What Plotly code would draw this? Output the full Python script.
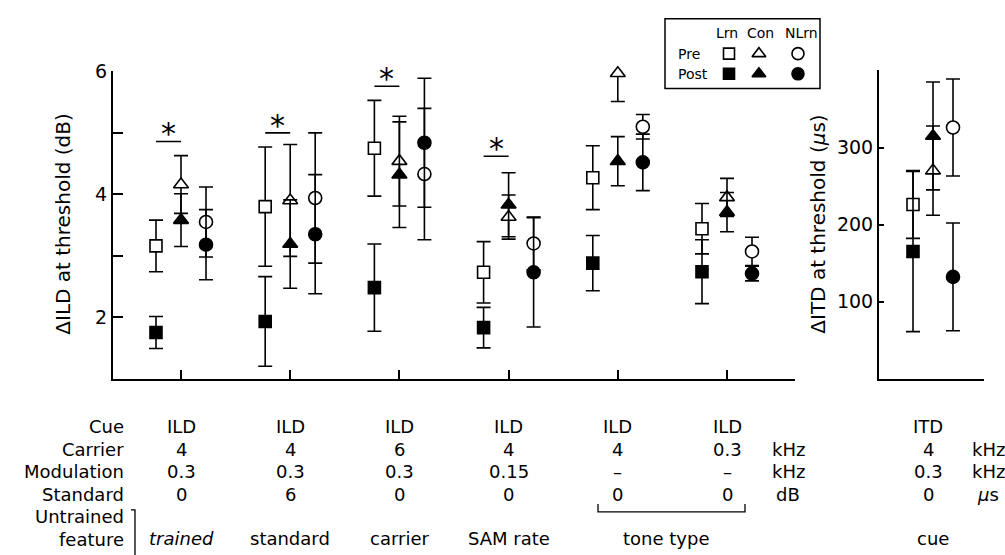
import plotly.graph_objects as go

W, H = 1005, 555
FONT = "DejaVu Sans"

# ---------------- data ----------------
group_pos = [1, 2, 3, 4, 5, 6]
# ILD thresholds (dB) per group: trained, standard, carrier, SAM rate, tone 4 kHz, tone 0.3 kHz
lrn_pre = [3.16, 3.80, 4.75, 2.73, 4.27, 3.44]
lrn_pre_err = [0.42, 0.97, 0.78, 0.50, 0.52, 0.41]
lrn_post = [1.75, 1.93, 2.48, 1.83, 2.88, 2.74]
lrn_post_err = [0.26, 0.73, 0.71, 0.33, 0.45, 0.52]
con_pre = [4.16, 3.90, 4.54, 3.63, 5.97, 3.95]
con_pre_err = [0.47, 0.91, 0.73, 0.36, 0.46, 0.31]
con_post = [3.58, 3.19, 4.32, 3.83, 4.54, 3.71]
con_post_err = [0.43, 0.72, 0.86, 0.52, 0.40, 0.32]
nlrn_pre = [3.55, 3.94, 4.33, 3.20, 5.10, 3.07]
nlrn_pre_err = [0.57, 1.06, 1.07, 0.43, 0.20, 0.23]
nlrn_post = [3.18, 3.35, 4.84, 2.73, 4.52, 2.71]
nlrn_post_err = [0.57, 0.97, 1.05, 0.89, 0.46, 0.12]

# ITD thresholds (us)
itd_pre = {"Lrn": 226, "Con": 270, "NLrn": 326}
itd_pre_err = {"Lrn": 44, "Con": 58, "NLrn": 63}
itd_post = {"Lrn": 165, "Con": 315, "NLrn": 132}
itd_post_err = {"Lrn": 104, "Con": 70, "NLrn": 70}

# significance bars (groups 1-4), heights in dB
sig_groups = [1, 2, 3, 4]
sig_y = [4.86, 5.00, 5.76, 4.62]

# table text
row_labels = ["Cue", "Carrier", "Modulation", "Standard"]
cue_row = ["ILD", "ILD", "ILD", "ILD", "ILD", "ILD"]
carrier_row = ["4", "4", "6", "4", "4", "0.3"]
mod_row = ["0.3", "0.3", "0.3", "0.15", "\u2013", "\u2013"]
std_row = ["0", "6", "0", "0", "0", "0"]
unit_row = ["", "kHz", "kHz", "dB"]
feature_row = ["<i>trained</i>", "standard", "carrier", "SAM rate"]
itd_col = ["ITD", "4", "0.3", "0"]
itd_units = ["", "kHz", "kHz", "<i>\u00b5</i>s"]

# ---------------- geometry helpers ----------------
def px(x):
    return x / W

def py(y):
    return 1 - y / H

OFF = 0.229       # left-panel group offset (data units)
OFF2 = 0.2        # right-panel offset

fig = go.Figure()

def add_series(xs, ys, errs, symbol, filled, xa, ya, size):
    fig.add_trace(go.Scatter(
        x=xs, y=ys, mode="markers", xaxis=xa, yaxis=ya, showlegend=False,
        cliponaxis=False,
        error_y=dict(type="data", array=errs, visible=True, color="black",
                     thickness=1.6, width=7),
        marker=dict(symbol=symbol, size=size,
                    color="black" if filled else "white",
                    line=dict(color="black", width=1.6)),
    ))

series = [
    ("Lrn", -OFF, "square", lrn_pre, lrn_pre_err, lrn_post, lrn_post_err, 12),
    ("Con", 0.0, "triangle-up", con_pre, con_pre_err, con_post, con_post_err, 13),
    ("NLrn", OFF, "circle", nlrn_pre, nlrn_pre_err, nlrn_post, nlrn_post_err, 13),
]
for name, off, sym, pre, pre_e, post, post_e, sz in series:
    xs = [g + off for g in group_pos]
    add_series(xs, pre, pre_e, sym, False, "x", "y", sz)
    add_series(xs, post, post_e, sym, True, "x", "y", sz)

right_off = {"Lrn": -OFF2, "Con": 0.0, "NLrn": OFF2}
right_sym = {"Lrn": ("square", 12), "Con": ("triangle-up", 13), "NLrn": ("circle", 13)}
for k in ["Lrn", "Con", "NLrn"]:
    s, sz = right_sym[k]
    add_series([1 + right_off[k]], [itd_pre[k]], [itd_pre_err[k]], s, False, "x2", "y2", sz)
    add_series([1 + right_off[k]], [itd_post[k]], [itd_post_err[k]], s, True, "x2", "y2", sz)

# legend markers (aux axes)
leg_x = [0.413, 0.606, 0.858]
leg_sym = [("square", 11), ("triangle-up", 12), ("circle", 12)]
for lx, (s, sz) in zip(leg_x, leg_sym):
    fig.add_trace(go.Scatter(x=[lx], y=[0.50], mode="markers", xaxis="x3", yaxis="y3",
                             showlegend=False, cliponaxis=False,
                             marker=dict(symbol=s, size=sz, color="white",
                                         line=dict(color="black", width=1.6))))
    fig.add_trace(go.Scatter(x=[lx], y=[0.21], mode="markers", xaxis="x3", yaxis="y3",
                             showlegend=False, cliponaxis=False,
                             marker=dict(symbol=s, size=sz, color="black",
                                         line=dict(color="black", width=1.6))))

shapes = []
annotations = []

# significance bars and asterisks
for g, yv in zip(sig_groups, sig_y):
    shapes.append(dict(type="line", xref="x", yref="y", x0=g - OFF, x1=g, y0=yv, y1=yv,
                       line=dict(color="black", width=1.6)))
    annotations.append(dict(xref="x", yref="y", x=g - OFF / 2, y=yv, text="*",
                            showarrow=False, yanchor="bottom", yshift=-12,
                            font=dict(family=FONT, size=30, color="black")))

# legend box & text
LX0, LX1, LY0, LY1 = 665, 820, 8, 79
LF = dict(family=FONT, size=14, color="black")
shapes.append(dict(type="rect", xref="paper", yref="paper", x0=px(LX0), x1=px(LX1),
                   y0=py(LY1), y1=py(LY0), line=dict(color="black", width=1.5)))
for t, x in zip(["Lrn", "Con", "NLrn"], [727, 760, 801]):
    annotations.append(dict(xref="paper", yref="paper", x=px(x), y=py(22), text=t,
                            showarrow=False, xanchor="center", yanchor="middle", font=LF))
for t, yy in zip(["Pre", "Post"], [44, 64]):
    annotations.append(dict(xref="paper", yref="paper", x=px(676), y=py(yy), text=t,
                            showarrow=False, xanchor="left", yanchor="middle", font=LF))

# y-axis titles
annotations.append(dict(xref="paper", yref="paper", x=px(63), y=py(217),
                        text="\u0394ILD at threshold (dB)", textangle=-90, showarrow=False,
                        xanchor="center", yanchor="middle",
                        font=dict(family=FONT, size=20, color="black")))
annotations.append(dict(xref="paper", yref="paper", x=px(818), y=py(218),
                        text="\u0394ITD at threshold (<i>\u00b5</i>s)", textangle=-90,
                        showarrow=False, xanchor="center", yanchor="middle",
                        font=dict(family=FONT, size=20, color="black")))

# table
ROW_Y = [424, 447, 470, 493]
FEAT_Y = 538
TF = dict(family=FONT, size=18, color="black")
for lab, yy in zip(row_labels, ROW_Y):
    annotations.append(dict(xref="paper", yref="paper", x=px(126), y=py(yy), text=lab,
                            showarrow=False, xanchor="right", yanchor="middle", font=TF))
annotations.append(dict(xref="paper", yref="paper", x=px(126), y=py(516), text="Untrained",
                        showarrow=False, xanchor="right", yanchor="middle", font=TF))
annotations.append(dict(xref="paper", yref="paper", x=px(126), y=py(539), text="feature",
                        showarrow=False, xanchor="right", yanchor="middle", font=TF))
shapes.append(dict(type="path", xref="paper", yref="paper",
                   path=f"M {px(131)},{py(509)} L {px(135)},{py(509)} L {px(135)},{py(555)}",
                   line=dict(color="black", width=1.3)))

for row, yy in zip([cue_row, carrier_row, mod_row, std_row], ROW_Y):
    for g, t in zip(group_pos, row):
        annotations.append(dict(xref="x", yref="paper", x=g, y=py(yy), text=t,
                                showarrow=False, xanchor="center", yanchor="middle", font=TF))
for t, yy in zip(unit_row, ROW_Y):
    if t:
        annotations.append(dict(xref="paper", yref="paper", x=px(788), y=py(yy), text=t,
                                showarrow=False, xanchor="center", yanchor="middle", font=TF))
for g, t in zip(group_pos[:4], feature_row):
    annotations.append(dict(xref="x", yref="paper", x=g, y=py(FEAT_Y), text=t,
                            showarrow=False, xanchor="center", yanchor="middle", font=TF))
annotations.append(dict(xref="x", yref="paper", x=5.44, y=py(FEAT_Y), text="tone type",
                        showarrow=False, xanchor="center", yanchor="middle", font=TF))
shapes.append(dict(type="path", xref="paper", yref="paper",
                   path=(f"M {px(598)},{py(503)} L {px(598)},{py(511)} "
                         f"L {px(745)},{py(511)} L {px(745)},{py(503)}"),
                   line=dict(color="black", width=1.3)))

for t, yy in zip(itd_col, ROW_Y):
    annotations.append(dict(xref="x2", yref="paper", x=0.95, y=py(yy), text=t,
                            showarrow=False, xanchor="center", yanchor="middle", font=TF))
for t, yy in zip(itd_units, ROW_Y):
    if t:
        annotations.append(dict(xref="paper", yref="paper", x=px(988), y=py(yy), text=t,
                                showarrow=False, xanchor="center", yanchor="middle", font=TF))
annotations.append(dict(xref="x2", yref="paper", x=1.0, y=py(FEAT_Y), text="cue",
                        showarrow=False, xanchor="center", yanchor="middle", font=TF))

# ---------------- axes ----------------
x_left0, x_left1 = 113, 795
tick_px0, tick_step = 181, 109.2
xr0 = 1 - (tick_px0 - x_left0) / tick_step
xr1 = 1 + (x_left1 - tick_px0) / tick_step

axis_common = dict(showline=True, linecolor="black", linewidth=2, ticks="inside",
                   tickcolor="black", tickwidth=2, showgrid=False, zeroline=False,
                   tickfont=dict(family=FONT, size=19, color="black"))

fig.update_layout(
    width=W, height=H, margin=dict(l=0, r=0, t=0, b=0),
    paper_bgcolor="white", plot_bgcolor="white",
    xaxis=dict(domain=[px(x_left0), px(x_left1)], range=[xr0, xr1], tickvals=group_pos,
               showticklabels=False, ticklen=9, anchor="y", **{k: v for k, v in axis_common.items() if k != "tickfont"}),
    yaxis=dict(domain=[py(375), py(61.7)], range=[1, 6], tickvals=[2, 3, 4, 5, 6],
               ticktext=["2", "", "4", "", "6"], ticklen=10, anchor="x", **axis_common),
    xaxis2=dict(domain=[px(879), px(984)], range=[1 - 0.54, 1 + 0.51], showticklabels=False,
                ticks="", showline=True, linecolor="black", linewidth=2, showgrid=False,
                zeroline=False, anchor="y2"),
    yaxis2=dict(domain=[py(375), py(60.7)], range=[0, 400], tickvals=[100, 200, 300, 400],
                ticktext=["100", "200", "300", ""], ticklen=5, anchor="x2", **axis_common),
    xaxis3=dict(domain=[px(LX0), px(LX1)], range=[0, 1], visible=False, anchor="y3"),
    yaxis3=dict(domain=[py(LY1), py(LY0)], range=[0, 1], visible=False, anchor="x3"),
    shapes=shapes, annotations=annotations,
)

fig.write_html("out.html")
